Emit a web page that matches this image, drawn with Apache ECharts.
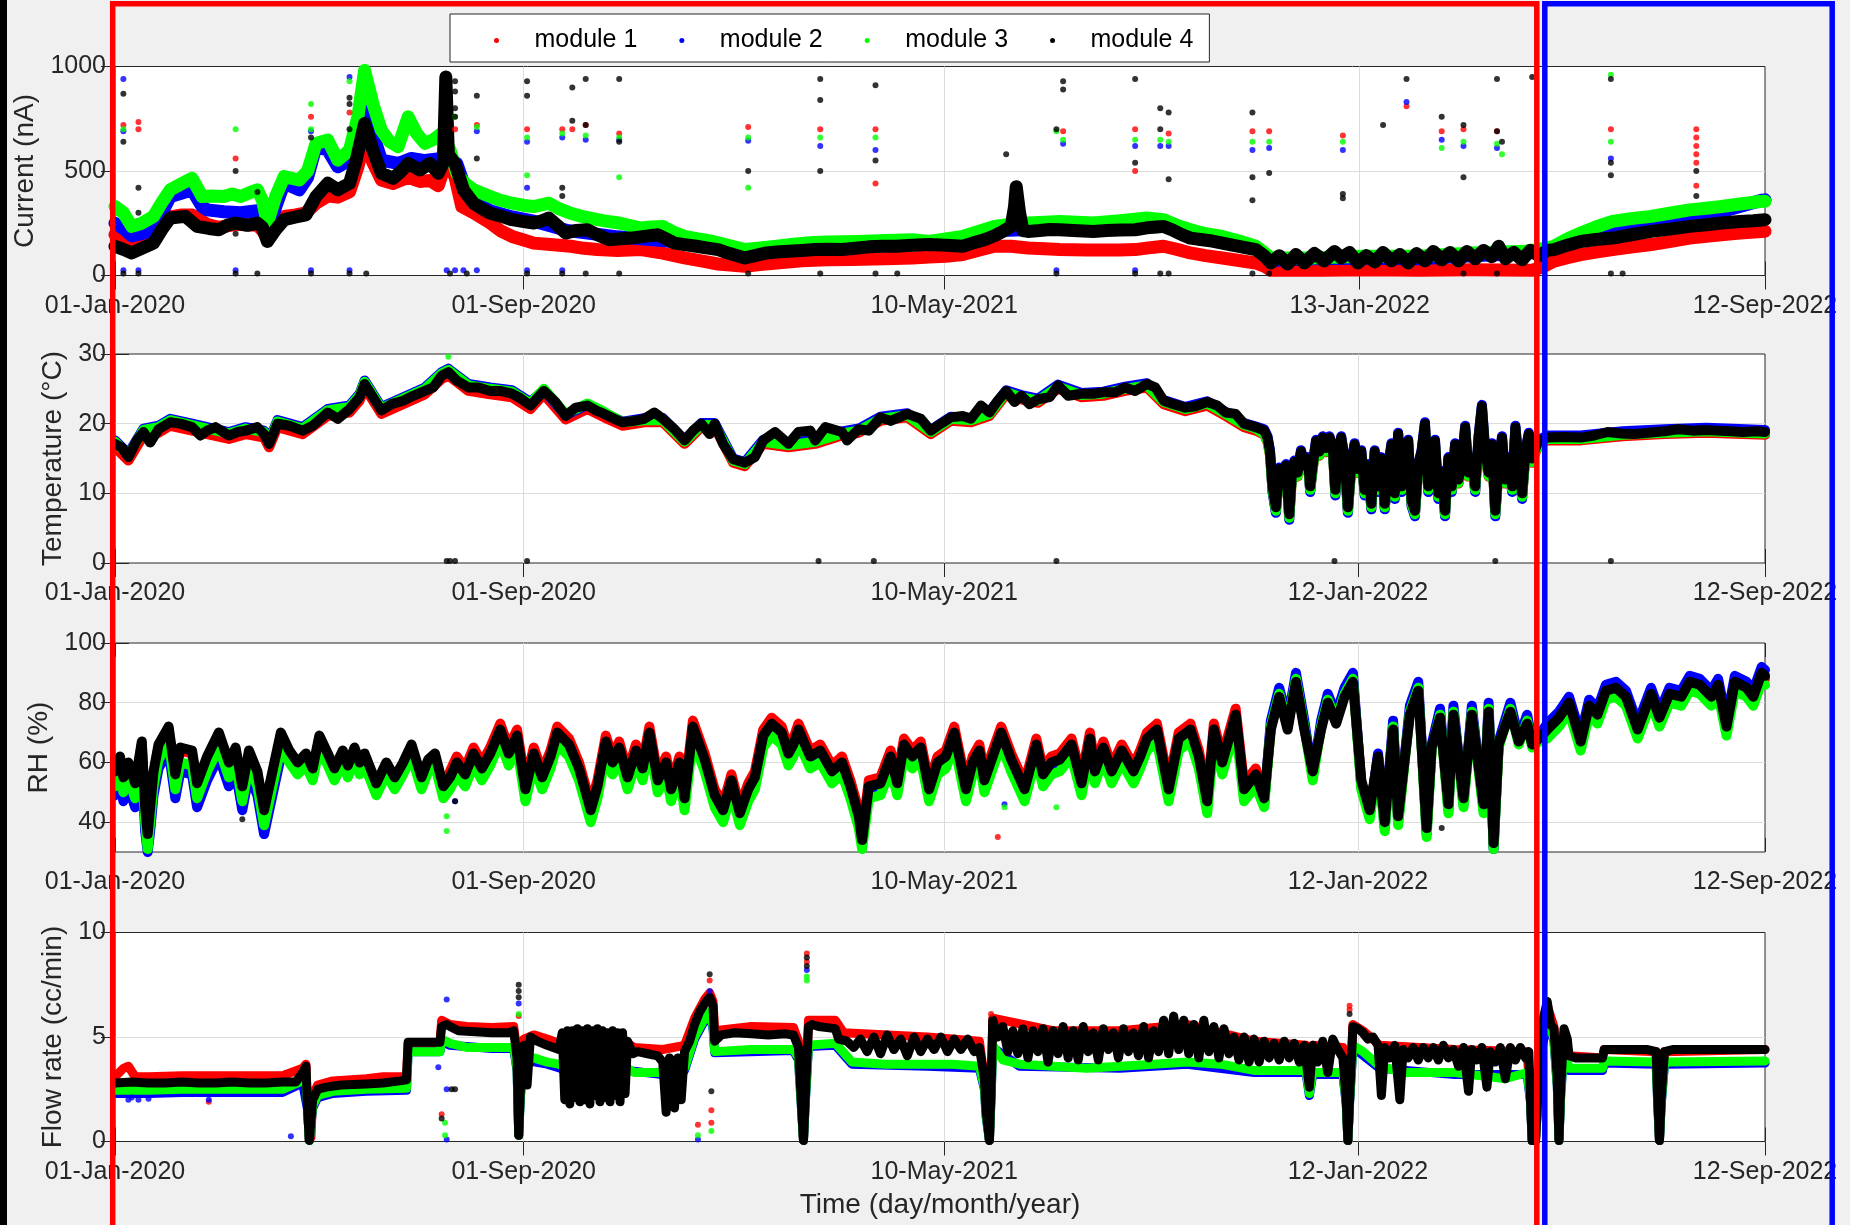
<!DOCTYPE html>
<html><head><meta charset="utf-8">
<script src="https://cdn.jsdelivr.net/npm/echarts@6/dist/echarts.min.js"></script>
<style>html,body{margin:0;padding:0;background:#f0f0f0;}#c{width:1850px;height:1225px;}</style>
</head><body><div id="c"></div>
<script>
// ---- axis ticks (x = days since 01-Jan-2020) ----
const tickDaysTop = [0, 244, 495, 743, 985];
const tickLabelsTop = ['01-Jan-2020','01-Sep-2020','10-May-2021','13-Jan-2022','12-Sep-2022'];
const tickDaysOther = [0, 244, 495, 742, 985];
const tickLabelsOther = ['01-Jan-2020','01-Sep-2020','10-May-2021','12-Jan-2022','12-Sep-2022'];
const moduleNames = ['module 1','module 2','module 3','module 4'];
const moduleColors = ['#ff0000','#0000ff','#00ff00','#000000'];
const curTicks = [0, 500, 1000];
const tmpTicks = [0, 10, 20, 30];
const rhTicks = [40, 60, 80, 100];
const flowTicks = [0, 5, 10];

// ---- Current (nA) ----
const curM4 = [[0,140],[5,125],[10,108],[16,130],[23,155],[28,220],[33,275],[42,283],[49,235],[56,225],[62,219],[67,240],[72,251],[79,240],[85,251],[88,230],[91,163],[96,220],[101,267],[108,280],[114,290],[120,378],[127,441],[133,410],[140,441],[144,552],[149,727],[154,600],[159,489],[166,465],[171,500],[175,536],[182,505],[188,536],[193,489],[196,540],[197.5,950],[199,580],[203,536],[208,410],[214,346],[219,320],[224,298],[230,285],[237,267],[244,258],[250,251],[255,262],[259,275],[264,240],[269,203],[275,215],[282,219],[288,195],[295,171],[302,176],[308,179],[316,187],[324,195],[329,175],[334,155],[340,148],[347,140],[353,132],[360,124],[367,105],[376,84],[382,95],[389,108],[395,112],[402,116],[410,120],[418,124],[426,126],[434,124],[442,130],[450,137],[458,140],[466,140],[476,145],[486,148],[496,145],[506,140],[512,155],[519,171],[525,190],[530,211],[535,235],[537,330],[538,425],[540,300],[542,215],[545,211],[552,215],[558,220],[564,219],[572,215],[578,213],[584,211],[592,215],[600,218],[609,219],[616,228],[622,232],[626,235],[632,215],[637,195],[642,179],[648,172],[655,165],[661,155],[667,145],[674,135],[681,124],[686,95],[690,60],[695,95],[700,55],[705,100],[710,60],[716,105],[722,70],[728,115],[732,85],[737,110],[742,60],[747,95],[752,65],[757,110],[762,70],[767,100],[772,60],[777,105],[782,70],[787,115],[792,75],[797,110],[802,70],[807,115],[812,80],[817,120],[822,90],[826,140],[830,80],[835,110],[840,75],[845,120],[850,95],[855,120],[859,124],[867,145],[875,163],[884,172],[894,179],[905,195],[917,211],[928,222],[940,235],[950,243],[959,251],[970,258],[978,262],[985,267]];
const curM3 = [[0,330],[5,300],[10,235],[16,250],[23,283],[28,350],[33,410],[40,440],[46,465],[52,378],[58,380],[65,378],[70,390],[75,378],[80,395],[85,410],[88,360],[91,251],[96,380],[101,473],[110,457],[115,500],[120,632],[127,648],[133,552],[140,600],[145,760],[149,981],[154,820],[159,695],[164,640],[169,616],[175,759],[180,680],[185,632],[190,650],[195,680],[200,600],[204,489],[209,440],[214,410],[224,378],[230,360],[237,346],[244,335],[250,330],[259,346],[265,320],[272,298],[280,280],[288,267],[295,258],[301,251],[308,238],[314,227],[320,232],[327,235],[334,205],[340,187],[348,175],[357,163],[366,145],[376,124],[385,132],[395,140],[405,150],[412,155],[425,160],[444,163],[460,168],[476,171],[486,163],[496,175],[506,187],[515,210],[525,235],[535,245],[545,251],[555,255],[564,259],[574,255],[584,251],[600,262],[616,275],[626,267],[634,240],[642,219],[651,200],[661,187],[671,165],[681,140],[686,110],[690,84],[713,84],[745,92],[778,92],[810,108],[842,116],[850,125],[859,140],[867,175],[875,203],[884,232],[894,259],[905,272],[917,283],[928,298],[940,314],[950,322],[959,330],[970,342],[982,354],[985,355]];
const curM2 = [[0,250],[5,225],[10,190],[16,200],[23,220],[28,300],[33,378],[40,395],[46,410],[52,330],[55,314],[65,305],[75,300],[85,310],[88,280],[91,200],[96,330],[101,441],[110,410],[115,470],[120,616],[127,600],[133,520],[140,552],[145,680],[149,838],[154,680],[159,552],[169,536],[177,560],[185,550],[195,560],[204,536],[209,420],[214,360],[224,310],[237,280],[250,260],[270,215],[300,185],[330,165],[360,130],[376,95],[400,120],[450,140],[486,150],[506,150],[519,180],[530,215],[545,220],[564,225],[600,228],[626,240],[642,190],[661,160],[681,130],[690,72],[713,80],[745,82],[778,80],[810,95],[842,105],[859,130],[875,175],[894,200],[917,235],[940,270],[959,305],[983,360],[985,362]];
const curM1 = [[0,195],[5,175],[10,155],[16,160],[23,175],[28,240],[33,280],[40,290],[46,290],[55,245],[62,230],[72,245],[85,240],[88,215],[91,180],[96,240],[101,283],[108,290],[114,300],[120,346],[127,380],[133,375],[140,400],[145,520],[149,648],[154,540],[159,457],[166,440],[175,470],[182,450],[188,455],[193,430],[198,552],[203,470],[207,330],[214,300],[224,251],[230,215],[237,187],[244,170],[250,155],[260,148],[272,140],[280,130],[288,124],[300,120],[314,124],[325,110],[340,84],[350,70],[360,55],[376,44],[385,52],[395,60],[410,70],[425,75],[440,76],[460,80],[476,84],[486,88],[496,92],[506,100],[515,120],[525,140],[535,140],[545,132],[555,128],[564,124],[580,122],[600,122],[609,124],[617,132],[626,140],[634,125],[642,108],[651,95],[661,84],[671,72],[681,60],[686,45],[690,25],[720,25],[750,28],[778,25],[810,28],[846,25],[852,40],[859,68],[867,85],[875,100],[884,112],[894,124],[905,136],[917,148],[928,162],[940,179],[950,188],[959,195],[970,203],[983,211],[985,212]];
const curOut1 = [[5,720],[14,735],[14,700],[72,560],[117,760],[140,780],[203,700],[216,720],[246,700],[267,700],[273,700],[281,720],[301,680],[378,710],[421,700],[454,700],[454,440],[566,690],[609,700],[609,500],[629,680],[679,690],[689,690],[733,670],[771,810],[792,690],[805,700],[825,690],[893,700],[944,700],[944,660],[944,620],[944,580],[944,540],[944,430]];
const curOut2 = [[5,940],[5,690],[117,690],[140,950],[216,690],[246,640],[246,420],[267,660],[281,650],[301,650],[378,645],[421,620],[454,600],[566,630],[609,620],[624,620],[629,620],[679,600],[689,610],[733,600],[771,830],[792,650],[805,620],[825,610],[893,560],[5,25],[14,25],[72,25],[117,25],[140,25],[198,25],[203,25],[208,25],[216,25],[246,25],[267,25],[562,25],[609,25]];
const curOut3 = [[5,700],[72,700],[117,820],[117,700],[140,930],[203,760],[216,710],[246,660],[246,480],[267,680],[281,670],[301,660],[301,470],[378,660],[378,420],[421,660],[454,660],[562,690],[566,650],[609,650],[624,650],[629,640],[679,640],[689,640],[733,640],[792,610],[805,640],[825,630],[828,580],[893,960],[893,640]];
const curOut4 = [[5,870],[5,640],[14,420],[14,300],[72,500],[72,200],[85,400],[117,660],[140,850],[140,820],[140,700],[203,930],[203,880],[203,800],[203,760],[216,860],[216,560],[246,930],[246,860],[267,420],[267,380],[273,900],[273,740],[281,940],[281,720],[301,940],[301,640],[378,500],[421,940],[421,840],[421,500],[454,910],[454,550],[532,580],[562,700],[566,930],[566,890],[609,940],[609,540],[624,800],[624,700],[629,780],[629,460],[679,780],[679,470],[679,360],[689,490],[733,390],[733,370],[757,720],[771,940],[792,760],[805,720],[805,470],[825,940],[825,690],[828,640],[846,950],[893,940],[893,540],[893,480],[944,500],[944,380],[5,10],[14,10],[72,10],[85,10],[117,10],[140,10],[150,10],[200,10],[210,10],[246,10],[267,10],[281,10],[301,10],[378,10],[421,10],[454,10],[467,10],[562,10],[609,10],[624,10],[629,10],[679,10],[689,10],[805,10],[825,10],[893,10],[900,10]];

// ---- Temperature (°C) ----
// smooth part + late part of module 4
const tmpM4Smooth = [[0,17.1],[4,16.6],[8,15.2],[13,17.6],[17,18.8],[21,17.3],[26,19.2],[33,20.2],[39,20],[46,19.5],[51,18.3],[55,19],[60,19.5],[68,18.3],[73,18.8],[78,19],[85,19.5],[89,18.5],[92,17.1],[97,20],[104,19.7],[112,19],[118,19.7],[127,21.6],[133,20.7],[140,22.1],[146,23.8],[149,25.7],[154,23.8],[159,21.9],[165,22.8],[172,23.3],[178,24],[185,24.7],[190,25.2],[195,26.9],[199,27.4],[204,26.2],[211,25.2],[217,25.2],[224,24.7],[230,24.7],[237,24.3],[241,23.8],[248,22.6],[256,24.7],[263,23.1],[269,21.1],[275,22.3],[282,22.6],[287,21.9],[292,21.4],[298,20.7],[303,20.2],[310,20.4],[316,20.7],[322,21.6],[327,20.7],[334,19.2],[340,17.6],[345,19],[350,20],[355,18.5],[358,20],[363,17.1],[369,14.9],[376,14.4],[382,15.2],[387,17.6],[394,18.8],[402,17.1],[408,18.8],[415,19],[418,17.6],[424,19.5],[434,18.8],[437,17.6],[444,19.2],[450,19],[457,20.9],[463,20.4],[473,21.4],[481,20.7],[487,19],[493,20],[499,20.9],[506,21.1],[511,20.7],[517,22.6],[522,21.6],[527,23.3],[532,24.7],[537,23.1],[541,24],[546,22.8],[551,23.5],[558,23.8],[563,25.5],[569,24],[577,24.3],[584,24.3],[590,24.5],[597,24.5],[603,25.2],[609,24.7],[616,25.7],[621,25.2],[626,23.3],[632,22.8],[639,22.3],[645,22.5],[652,23.1],[658,22.6],[663,21.6],[669,21.4],[674,20],[681,19.5]];
const tmpM4Late = [[855,18],[865,18.1],[875,18],[883,18.3],[891,18.8],[899,18.6],[907,18.5],[915,18.7],[925,18.9],[933,19.2],[942,19],[950,19.1],[956,19],[964,18.9],[972,18.8],[980,18.9],[985,18.8]];
// volatile winter 2021-2022 (all modules share these days)
const tmpVolDays = [686,688,689.5,691,693,695,697,699,701,702.5,704,706,708,710,712,713.5,715,717,719,721,723,725,727,728.5,730,732,734,736,738,740,742,744,746,748,750,752,754,756,758,760,762,764,766,768,770,772,774,776,778,780,782,784,786,788,790,792,794,796,798,800,802,804,806,808,810,812,814,816,818,820,822,824,826,828,830,832,834,836,838,840,842,844,846,848,850];
const tmpVolM4 = [19,18,16,11,8,13.5,12.5,14,7,12.5,14.5,13,16,14,15,11,14,17.5,16,18,16.5,18,16.5,10.5,15,18,15,8,14,17,13.5,16,10.5,14,8.5,16,11,15,8.5,13.5,17,10,18.5,11,15,17.5,9,7.5,14,16,20,11,15,17.5,10,13,7.5,15,11,17,12,14,19.5,13,15,11,18,22.5,16,13,17,7.5,14,18,12,15,11,19.5,14,10,16,18.5,15,16.5,17.5];
const tmpVolM3 = [18.5,17.5,15.5,10.5,7.5,13,12,13.5,6.5,12,14,12.5,15.5,13.5,14.5,10.5,13.5,17,15.5,17.5,16,17.5,16,10,14.5,17.5,14.5,7.5,13.5,16.5,13,15.5,10,13.5,8,15.5,10.5,14.5,8,13,16.5,9.5,18,10.5,14.5,17,8.5,7,13.5,15.5,19.5,10.5,14.5,17,9.5,12.5,7,14.5,10.5,16.5,11.5,13.5,19,12.5,14.5,10.5,17.5,22,15.5,12.5,16.5,7,13.5,17.5,11.5,14.5,10.5,19,13.5,9.5,15.5,18,14.5,16,17];
const tmpVolM2 = [19.2,18.2,16.2,10.2,7.2,13.7,12.7,14.2,6.2,12.7,14.7,13.2,16.2,14.2,15.2,10.2,14.2,17.7,16.2,18.2,16.7,18.2,16.7,9.7,15.2,18.2,15.2,7.2,14.2,17.2,13.7,16.2,9.7,14.2,7.7,16.2,10.2,15.2,7.7,13.7,17.2,9.2,18.7,10.2,15.2,17.7,8.2,6.7,14.2,16.2,20.2,10.2,15.2,17.7,9.2,13.2,6.7,15.2,10.2,17.2,12.2,14.2,19.7,13.2,15.2,10.2,18.2,22.7,16.2,13.2,17.2,6.7,14.2,18.2,12.2,15.2,10.2,19.7,14.2,9.2,16.2,18.7,15.2,16.7,17.7];
const tmpVolM1 = [18.4,17.4,15.4,10.4,7.4,12.9,11.9,13.4,6.4,11.9,13.9,12.4,15.4,13.4,14.4,10.4,13.4,16.9,15.4,17.4,15.9,17.4,15.9,9.9,14.4,17.4,14.4,7.4,13.4,16.4,12.9,15.4,9.9,13.4,7.9,15.4,10.4,14.4,7.9,12.9,16.4,9.4,17.9,10.4,14.4,16.9,8.4,6.9,13.4,15.4,19.4,10.4,14.4,16.9,9.4,12.4,6.9,14.4,10.4,16.4,11.4,13.4,18.9,12.4,14.4,10.4,17.4,21.9,15.4,12.4,16.4,6.9,13.4,17.4,11.4,14.4,10.4,18.9,13.4,9.4,15.4,17.9,14.4,15.9,16.9];
// modules 1-3 outside the volatile period
const tmpCDays = [0,8,17,26,33,46,55,68,78,89,92,97,112,127,140,146,149,159,172,185,195,199,211,224,237,248,256,269,282,292,303,316,327,340,350,358,369,376,387,402,418,434,444,457,473,487,499,511,522,532,541,551,563,577,590,603,616,626,639,652,663,674,681,855,875,900,925,950,985];
const tmpM3 = [17.4,15.5,19.1,19.5,20.5,19.8,19.3,18.6,19.3,18.8,17.4,20.3,19.3,21.9,22.4,24.1,26,22.2,23.6,25,27.2,27.7,25.5,25,24.6,22.9,25,21.4,22.9,21.7,20.2,20.5,20.5,17.4,19.8,19.8,14.7,14.2,17.4,16.9,17.4,18.6,19,20.7,21.2,18.8,20.7,20.5,21.4,24.5,23.8,23.3,25.3,24.1,24.3,25,25.5,23.1,22.1,22.9,21.4,19.8,19.3,17.8,17.8,18.4,18.7,18.9,18.6];
const tmpM2 = [17.6,15.7,19.3,19.7,20.7,20,19.5,18.8,19.5,19,17.6,20.5,19.5,22.1,22.6,24.3,26.2,22.4,23.8,25.2,27.4,27.9,25.7,25.2,24.8,23.1,24.8,21.2,22.7,21.5,20.3,20.8,20.8,17.7,20.1,20.1,15,14.5,17.7,17.2,17.7,18.9,19.3,21,21.5,19.1,21,20.8,21.7,24.8,24.1,23.6,25.6,24.4,24.6,25.3,25.8,23.4,22.4,23.2,21.7,20.1,19.6,18.3,18.3,18.9,19.2,19.4,19.1];
const tmpM1 = [16.6,14.7,18.3,18.7,19.7,19,18.5,17.8,18.5,18,16.6,19.5,18.5,21.1,21.6,23.3,25.2,21.4,22.8,24.2,26.4,26.9,24.7,24.2,23.8,22.1,24.2,20.6,22.1,20.9,19.7,20.2,20.2,17.1,19.5,19.5,14.4,13.9,17.1,16.6,17.1,18.3,18.7,20.4,20.9,18.5,20.4,20.2,21.1,24.2,23.5,23,25,23.8,24,24.7,25.2,22.8,21.8,22.6,21.1,19.5,19,17.6,17.6,18.2,18.5,18.7,18.4];
const tmpOut1 = [];
const tmpOut2 = [];
const tmpOut3 = [[199,29.6]];
const tmpOut4 = [[198,0.3],[200,0.3],[203,0.3],[246,0.3],[420,0.3],[453,0.3],[562,0.3],[728,0.3],[824,0.3],[893,0.3]];

// ---- RH (%) ----
const rhDays = [0,3,5,8,12,16,18,19.5,21,23,26,32,36,39,46,49,55,62,68,72,76,80,85,89,94,99,104,109,114,118,122,127,131,136,139,143,146,149,156,162,167,172,177,183,187,191,196,200,204,209,214,219,224,230,235,240,245,250,255,260,264,271,277,284,288,293,297,301,306,311,315,319,324,329,332,337,340,345,352,358,363,368,373,378,382,387,392,398,402,405,408,415,421,428,434,439,444,446,450,457,463,467,471,476,481,486,491,496,501,508,512,516,519,524,529,535,543,550,554,559,564,571,577,582,585,590,595,601,608,612,616,622,629,635,642,647,652,656,661,669,674,681,686,690,695,700,705,710,715,720,724,729,734,739,744,749,754,758,763,766,773,778,783,786,791,796,799,805,810,817,820,823,826,833,838,843,846,850,855,862,868,875,880,885,890,896,902,909,917,922,928,935,940,946,953,957,962,967,974,978,983,985];
const rhM4 = [57,62,55,60,53,67,45,36,45,57,66,72,56,65,64,53,62,70,60,65,52,64,57,44,57,70,64,60,63,58,69,63,58,64,59,65,60,63,53,60,55,60,66,55,61,63,52,55,60,56,63,58,63,71,63,69,51,63,55,62,70,66,58,44,52,67,60,65,55,64,58,70,54,60,51,60,48,72,61,49,44,54,43,51,55,69,73,70,63,66,71,62,64,57,60,52,42,34,52,53,62,53,66,62,65,51,60,62,70,51,60,64,54,62,70,61,51,66,56,60,61,66,53,68,57,65,57,64,57,62,68,71,51,68,71,62,47,71,60,76,51,56,48,71,82,71,87,71,57,71,80,73,82,87,54,44,62,40,71,42,76,84,38,65,75,46,76,48,76,46,77,33,66,77,67,73,66,68,71,75,80,67,79,76,84,85,82,71,83,75,83,82,87,86,82,86,72,87,85,82,90,89];
const rhM3 = [52,57,50,55,48,62,40,31,40,52,61,67,51,60,59,48,57,65,55,60,47,59,52,39,52,65,
 60,56,59,54,65,59,54,60,55,61,56,59,49,56,51,56,62,51,57,59,48,51,56,52,59,54,59,67,59,65,47,59,51,58,66,62,54,40,48,63,56,61,51,60,54,66,50,56,47,56,44,68,57,45,40,50,39,47,51,65,69,66,59,62,67,58,60,53,56,48,38,31,48,49,58,49,62,58,61,47,56,58,66,47,56,60,50,58,66,57,47,62,52,56,57,62,49,64,53,61,53,60,53,58,64,67,47,64,67,58,43,67,56,72,47,52,
 45,72,83,72,88,72,54,72,81,74,83,88,51,41,61,37,72,39,77,85,35,64,76,43,77,45,77,43,78,31,65,78,66,74,65,67,
 68,72,77,64,76,73,81,82,79,68,80,72,80,79,84,83,79,83,69,84,82,79,87,86];
const rhM2 = [49,54,47,52,45,59,37,30,37,49,58,64,48,57,56,45,54,62,52,57,44,56,49,36,49,62,
 63,59,62,57,68,62,57,63,58,64,59,62,52,59,54,59,65,54,60,62,51,54,59,55,62,57,62,70,62,68,50,62,54,61,69,65,57,43,51,66,59,64,54,63,57,69,53,59,50,59,47,71,60,48,43,53,42,50,54,68,72,69,62,65,70,61,63,56,59,51,41,33,51,52,61,52,65,61,64,50,59,61,69,50,59,63,53,61,69,60,50,65,55,59,60,65,52,67,56,64,56,63,56,61,67,70,50,67,70,61,46,70,59,75,50,55,
 46,74,85,74,90,74,55,74,83,76,85,90,52,42,63,38,74,40,79,87,36,66,78,44,79,46,79,44,80,31,67,80,68,76,67,69,
 73,77,82,69,81,78,86,87,84,73,85,77,85,84,89,88,84,88,74,89,87,84,92,91];
const rhM1 = [56,61,54,59,52,66,44,35,44,56,65,71,55,64,63,52,61,69,59,64,51,63,56,43,56,69,
 63,59,62,57,68,62,57,63,58,64,59,62,52,59,54,59,65,54,60,62,51,
 57,62,58,65,60,65,73,65,71,53,65,57,64,72,68,60,46,54,69,62,67,57,66,60,72,56,62,53,62,50,74,63,51,46,56,45,53,57,71,75,72,65,68,73,64,66,59,62,54,44,36,54,55,64,55,68,64,67,53,62,64,72,53,62,66,56,64,72,63,53,68,58,62,63,68,55,70,59,67,59,66,59,64,70,73,53,70,73,64,49,73,62,78,53,58,
 47,72,83,72,88,72,56,72,81,74,83,88,53,43,62,39,72,41,77,85,37,65,76,45,77,47,77,45,78,32,66,78,67,74,66,68,
 70,74,79,66,78,75,83,84,81,70,82,74,82,81,86,85,81,85,71,86,84,81,89,88];
const rhOut1 = [[527,35]];
const rhOut2 = [[203,47],[531,46]];
const rhOut3 = [[198,42],[198,37],[531,45],[562,45]];
const rhOut4 = [[76,41],[203,47],[792,38]];

// ---- Flow rate (cc/min) ----
const flowM4 = [[0,2.8],[10,2.85],[20,2.8],[30,2.8],[40,2.85],[50,2.8],[60,2.8],[70,2.85],[80,2.8],[90,2.8],[100,2.85],[108,2.85],[112,3.3],[114,3.6],[115,1.5],[116,0.05],[117,1.0],[118,2.0],[121,2.5],[126,2.6],[135,2.7],[150,2.75],[160,2.8],[170,2.9],[174,2.95],[175,4.75],[185,4.75],[194,4.75],[195,5.5],[198,5.6],[200,5.5],[205,5.3],[215,5.25],[225,5.2],[235,5.2],[238,5.3],[240,4.0],[241,0.3],[242,2.5],[244,4.6],[246,2.7],[248,5.0],[252,4.8],[258,4.6],[265,4.4],[267,5.2],[268.5,2.0],[270,5.3],[271.5,1.8],[273,5.3],[274.5,2.1],[276,5.4],[277.5,1.9],[279,5.3],[280.5,2.0],[282,5.4],[283.5,1.8],[285,5.3],[286.5,2.2],[288,5.4],[289.5,1.9],[291,5.3],[292.5,2.1],[294,5.2],[295.5,1.9],[297,5.3],[298.5,2.2],[300,5.2],[301.5,1.9],[303,5.2],[304.5,2.3],[306,4.8],[309,4.2],[312,4.3],[318,4.2],[324,4.1],[327,3.8],[329,1.4],[331,4.0],[334,1.6],[336,4.0],[338,2.0],[340,4.3],[343,4.8],[346,5.6],[349,6.2],[352,6.6],[355,6.9],[357,6.5],[358,4.8],[362,5.1],[370,5.2],[380,5.15],[390,5.1],[400,5.15],[405,5.1],[408,4.5],[410,1.5],[411,0.05],[412,2.0],[414,5.5],[416,5.6],[420,5.5],[425,5.45],[430,5.4],[432,4.9],[437,4.8],[441,4.5],[445,4.9],[449,4.3],[453,5.0],[457,4.2],[461,5.1],[465,4.4],[469,4.9],[473,4.1],[477,5.0],[481,4.3],[485,4.9],[489,4.4],[493,5.0],[497,4.3],[501,4.9],[505,4.4],[509,4.9],[513,4.3],[516,4.5],[519,3.0],[520,1.5],[522,0.05],[523,2.5],[524,5.8],[527,5.0],[530,5.5],[533,4.3],[536,5.3],[539,4.2],[542,5.4],[545,4.0],[548,5.3],[551,4.3],[554,5.4],[557,3.8],[560,5.3],[563,4.2],[566,5.5],[569,4.0],[572,5.3],[575,3.9],[578,5.5],[581,4.3],[584,5.2],[587,3.9],[590,5.4],[593,4.4],[596,5.2],[599,4.0],[602,5.4],[605,4.3],[608,5.2],[611,4.1],[614,5.5],[617,4.0],[620,5.3],[623,4.3],[626,5.8],[629,4.2],[632,6.0],[635,4.4],[638,5.8],[641,4.2],[644,5.6],[647,4.0],[650,5.8],[653,4.3],[656,5.5],[659,4.0],[662,5.4],[665,4.2],[668,5.0],[671,3.9],[674,5.0],[677,3.8],[680,4.9],[683,3.8],[686,4.8],[689,4.0],[692,4.7],[695,3.9],[698,4.8],[701,4.0],[704,4.7],[707,3.8],[710,4.6],[713,2.6],[715,4.6],[718,3.8],[721,4.8],[724,3.3],[727,4.9],[730,4.4],[733,4.0],[735,2.0],[736,0.05],[737,2.0],[739,5.5],[742,5.4],[745,5.2],[748,4.9],[751,5.0],[754,4.6],[756,2.2],[758,4.5],[761,4.0],[764,4.6],[767,2.0],[769,4.4],[772,4.0],[775,4.5],[778,3.9],[781,4.5],[784,4.0],[787,4.5],[790,3.9],[793,4.6],[796,4.0],[799,4.4],[802,3.6],[805,4.5],[808,2.4],[810,4.4],[813,3.9],[816,4.5],[819,2.6],[821,4.3],[824,3.8],[827,4.5],[830,3.0],[833,4.5],[836,3.9],[839,4.5],[842,4.0],[844,4.3],[845,2.0],[846,0.05],[848,0.05],[851,4.5],[853,6.0],[855,6.7],[857,5.6],[859,5.4],[861,3.0],[862,0.05],[863,2.5],[865,5.4],[867,4.9],[868,4.1],[872,4.0],[880,4.0],[888,4.0],[889,4.4],[895,4.4],[905,4.4],[915,4.4],[920,4.3],[921,2.0],[922,0.05],[923,2.0],[925,4.3],[930,4.4],[940,4.4],[950,4.4],[960,4.4],[970,4.4],[980,4.4],[985,4.4]];
const flowM3 = [[0,2.45],[20,2.45],[40,2.5],[60,2.5],[80,2.5],[100,2.5],[112,2.9],[114,3.3],[115,1.5],[116,0.05],[117,0.8],[118,1.7],[121,2.2],[130,2.4],[150,2.5],[174,2.55],[175,4.3],[194,4.3],[195,4.9],[200,4.7],[210,4.5],[225,4.5],[238,4.5],[240,3.5],[241,0.3],[242,2.2],[244,4.0],[250,4.0],[258,3.8],[265,3.7],[270,3.5],[306,3.5],[310,3.3],[327,3.3],[340,3.5],[346,5.0],[352,5.9],[355,6.2],[357,5.5],[358,4.3],[380,4.4],[405,4.4],[408,4.0],[410,1.4],[411,0.05],[412,1.8],[414,4.6],[430,4.7],[440,3.8],[460,3.7],[485,3.7],[500,3.7],[516,3.6],[519,2.6],[520,1.3],[522,0.05],[523,2.2],[524,4.6],[530,3.9],[540,3.7],[560,3.6],[580,3.5],[600,3.6],[620,3.7],[640,3.8],[660,3.7],[680,3.4],[700,3.4],[711,3.4],[713,2.3],[715,3.3],[733,3.3],[735,1.9],[736,0.05],[737,1.9],[739,4.6],[745,4.3],[755,3.6],[770,3.3],[800,3.3],[830,3.0],[843,3.3],[845,2.0],[846,0.05],[848,0.05],[851,4.2],[853,5.4],[855,6.0],[859,4.9],[861,2.7],[862,0.05],[863,2.2],[865,4.6],[868,3.5],[888,3.5],[889,3.85],[920,3.8],[921,1.8],[922,0.05],[923,1.8],[925,3.8],[985,3.85]];
const flowM2 = [[0,2.3],[20,2.3],[40,2.35],[60,2.35],[80,2.35],[100,2.35],[112,2.8],[115,1.5],[116,0.05],[118,1.6],[121,2.1],[130,2.3],[150,2.4],[174,2.45],[175,4.3],[194,4.3],[195,4.8],[200,4.6],[225,4.45],[238,4.45],[240,3.4],[241,0.3],[242,2.1],[244,3.9],[258,3.7],[270,3.4],[306,3.4],[327,3.2],[340,3.4],[346,4.9],[352,5.8],[355,6.1],[357,5.4],[358,4.25],[405,4.35],[408,3.9],[410,1.3],[411,0.05],[412,1.7],[414,4.55],[430,4.6],[440,3.7],[485,3.6],[516,3.5],[519,2.5],[520,1.2],[522,0.05],[523,2.1],[524,4.5],[540,3.6],[600,3.5],[640,3.7],[680,3.3],[711,3.3],[713,2.2],[715,3.2],[733,3.2],[735,1.8],[736,0.05],[737,1.8],[739,4.5],[755,3.5],[800,3.2],[843,3.2],[845,1.9],[846,0.05],[848,0.05],[851,4.0],[855,5.9],[859,4.8],[861,2.6],[862,0.05],[863,2.1],[865,4.5],[868,3.4],[888,3.4],[889,3.75],[920,3.7],[921,1.7],[922,0.05],[923,1.7],[925,3.7],[985,3.75]];
const flowM1 = [[0,3.1],[5,3.5],[8,3.6],[12,3.1],[20,3.1],[40,3.15],[60,3.15],[80,3.15],[100,3.15],[112,3.5],[114,3.7],[115,1.5],[116,0.05],[117,0.2],[118,2.2],[121,2.7],[130,2.9],[150,3.0],[160,3.1],[174,3.1],[175,4.7],[194,4.7],[195,5.8],[200,5.6],[210,5.5],[225,5.45],[238,5.5],[240,4.3],[241,0.3],[242,2.7],[244,4.9],[250,5.1],[258,4.9],[265,4.7],[270,4.9],[306,4.7],[310,4.5],[327,4.4],[340,4.6],[346,5.9],[352,6.8],[355,7.1],[357,6.7],[358,5.3],[380,5.5],[405,5.45],[408,4.8],[410,1.6],[411,0.05],[412,2.2],[414,5.8],[430,5.8],[435,5.2],[485,5.0],[516,4.8],[519,3.0],[522,0.05],[523,2.5],[524,5.9],[560,5.3],[600,5.3],[640,5.6],[680,4.8],[711,4.6],[713,2.7],[715,4.6],[733,4.5],[735,2.0],[736,0.05],[737,2.0],[739,5.6],[745,5.3],[755,4.6],[800,4.4],[843,4.3],[845,2.0],[846,0.05],[848,0.05],[851,4.5],[855,6.5],[859,5.5],[861,3.0],[862,0.05],[863,2.5],[865,5.2],[868,4.1],[888,4.0],[889,4.4],[920,4.3],[921,2.0],[922,0.05],[923,2.0],[925,4.3],[985,4.4]];
const flowOut1 = [[56,1.9],[195,1.3],[241,6.0],[348,0.8],[356,1.5],[356,0.9],[355,7.7],[413,9.0],[413,8.6],[523,6.1],[737,6.5],[737,6.3]];
const flowOut2 = [[8,2.0],[10,2.1],[14,2.0],[20,2.05],[56,2.0],[105,0.25],[198,6.8],[193,3.55],[198,2.5],[198,0.1],[241,6.6],[348,0.1],[355,7.2],[413,8.2]];
const flowOut3 = [[197,0.9],[197,0.3],[241,6.1],[348,0.3],[356,0.5],[413,7.9],[413,7.7]];
const flowOut4 = [[195,1.1],[201,2.5],[203,2.5],[241,7.5],[241,7.2],[241,6.9],[356,2.4],[355,8.0],[413,8.8],[413,8.4],[737,6.1]];

// ---- build ----
const FONT = 'Liberation Sans, Arial, Helvetica, sans-serif';
const AX = '#262626';
const zipDays = (days, vals) => vals.map((v, i) => [days[i], v]);
const cut = (pairs, lo, hi) => pairs.filter(p => p[0] >= lo && p[0] <= hi);
const tmpLine = (cPairs, volVals) => cut(cPairs, 0, 685).concat(zipDays(tmpVolDays, volVals), cut(cPairs, 851, 985));

const panels = [
  {name:'Current (nA)', min:0, max:1000, yTicks:curTicks, nameGap:69, lw:13,
   lines:[curM1, curM2, curM3, curM4], outs:[curOut1, curOut2, curOut3, curOut4],
   xDays:tickDaysTop, xLabels:tickLabelsTop},
  {name:'Temperature (°C)', min:0, max:30, yTicks:tmpTicks, nameGap:44, lw:10,
   lines:[tmpLine(zipDays(tmpCDays, tmpM1), tmpVolM1), tmpLine(zipDays(tmpCDays, tmpM2), tmpVolM2),
          tmpLine(zipDays(tmpCDays, tmpM3), tmpVolM3), tmpLine(tmpM4Smooth.concat(tmpM4Late), tmpVolM4)],
   outs:[tmpOut1, tmpOut2, tmpOut3, tmpOut4], xDays:tickDaysOther, xLabels:tickLabelsOther},
  {name:'RH (%)', min:30, max:100, yTicks:rhTicks, nameGap:56, lw:10,
   lines:[zipDays(rhDays, rhM1), zipDays(rhDays, rhM2), zipDays(rhDays, rhM3), zipDays(rhDays, rhM4)],
   outs:[rhOut1, rhOut2, rhOut3, rhOut4], xDays:tickDaysOther, xLabels:tickLabelsOther},
  {name:'Flow rate (cc/min)', min:0, max:10, yTicks:flowTicks, nameGap:44, lw:9,
   lines:[flowM1, flowM2, flowM3, flowM4], outs:[flowOut1, flowOut2, flowOut3, flowOut4],
   xDays:tickDaysOther, xLabels:tickLabelsOther}
];
const gridTops = [66.5, 354, 643, 932.5];
const gridH = 209;

const grids = [], xAxes = [], yAxes = [], series = [];
panels.forEach((p, i) => {
  grids.push({left:115, right:85, top:gridTops[i], height:gridH, show:true,
    backgroundColor:'#ffffff', borderColor:AX, borderWidth:1});
  const lab = {};
  p.xDays.forEach((d, k) => { lab[d] = p.xLabels[k]; });
  const tick = {show:true, inside:true, length:14, lineStyle:{color:AX, width:1}};
  const xb = {type:'value', gridIndex:i, min:0, max:985, position:'bottom',
    axisLine:{show:false}, splitLine:{show:false},
    axisTick:Object.assign({customValues:p.xDays}, tick),
    axisLabel:{customValues:p.xDays, formatter:(v) => lab[v] || '', fontSize:25, color:AX,
      fontFamily:FONT, margin:18}};
  if (i === 3) {
    xb.name = 'Time (day/month/year)'; xb.nameLocation = 'middle'; xb.nameGap = 50;
    xb.nameTextStyle = {fontSize:28, color:AX, fontFamily:FONT};
  }
  xAxes.push(xb);
  xAxes.push({type:'value', gridIndex:i, min:0, max:985, position:'top',
    axisLine:{show:false}, splitLine:{show:false},
    axisTick:Object.assign({customValues:p.xDays}, tick), axisLabel:{show:false}});
  yAxes.push({type:'value', gridIndex:i, min:p.min, max:p.max, position:'left',
    axisLine:{show:false}, splitLine:{show:false},
    axisTick:Object.assign({customValues:p.yTicks}, tick),
    axisLabel:{customValues:p.yTicks, formatter:(v) => String(v), fontSize:25, color:AX,
      fontFamily:FONT, margin:9},
    name:p.name, nameLocation:'middle', nameGap:p.nameGap,
    nameTextStyle:{fontSize:28, color:AX, fontFamily:FONT}});
  yAxes.push({type:'value', gridIndex:i, min:p.min, max:p.max, position:'right',
    axisLine:{show:false}, splitLine:{show:false},
    axisTick:Object.assign({customValues:p.yTicks}, tick), axisLabel:{show:false}});

  const gridLines = p.xDays.slice(1, 4).map(d => ({xAxis:d}))
    .concat(p.yTicks.filter(v => v > p.min && v < p.max).map(v => ({yAxis:v})));

  p.lines.forEach((data, m) => {
    const s = {type:'line', name:moduleNames[m], xAxisIndex:2*i, yAxisIndex:2*i, data:data,
      showSymbol:false, symbol:'none', color:moduleColors[m], silent:true, z:2,
      lineStyle:{width:p.lw, color:moduleColors[m], join:'round', cap:'round'},
      itemStyle:{color:moduleColors[m]}};
    if (m === 0) {
      s.markLine = {silent:true, symbol:'none', z:1, animation:false, label:{show:false},
        lineStyle:{color:'#dcdcdc', width:1, type:'solid'}, emphasis:{disabled:true}, data:gridLines};
    }
    series.push(s);
  });
  p.outs.forEach((data, m) => {
    series.push({type:'scatter', name:moduleNames[m], xAxisIndex:2*i, yAxisIndex:2*i, data:data,
      symbolSize:6, silent:true, z:3, itemStyle:{color:moduleColors[m]}});
  });
});

const chart = echarts.init(document.getElementById('c'), null, {renderer:'canvas'});
chart.setOption({
  backgroundColor:'#f0f0f0',
  animation:false,
  textStyle:{fontFamily:FONT},
  grid:grids, xAxis:xAxes, yAxis:yAxes, series:series,
  legend:{data:moduleNames, left:450, top:14, icon:'circle', itemWidth:66, itemHeight:5, itemGap:42,
    padding:[14,16,9,44], backgroundColor:'#ffffff', borderColor:AX, borderWidth:1,
    selectedMode:false, textStyle:{fontSize:25, color:'#000', fontFamily:FONT}},
  graphic:[
    {type:'rect', silent:true, z:100, shape:{x:0, y:0, width:7, height:1225}, style:{fill:'#000'}},
    {type:'rect', silent:true, z:100, shape:{x:112.7, y:3.8, width:1424.1, height:1300},
     style:{fill:'none', stroke:'#ff0000', lineWidth:5.5}},
    {type:'rect', silent:true, z:100, shape:{x:1544.8, y:3.8, width:287.4, height:1300},
     style:{fill:'none', stroke:'#0000ff', lineWidth:5.5}}
  ]
});
</script></body></html>
